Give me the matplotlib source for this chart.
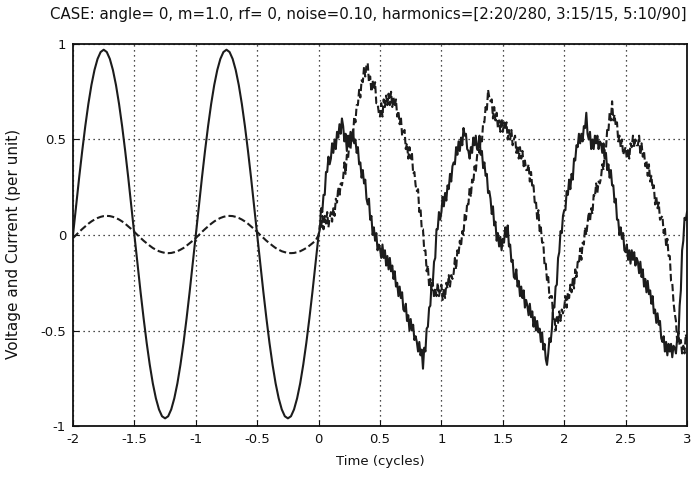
import numpy as np
import matplotlib
matplotlib.use("Agg")
import matplotlib.pyplot as plt

# ---------------- data ----------------
title_text = "CASE: angle= 0, m=1.0, rf= 0, noise=0.10, harmonics=[2:20/280, 3:15/15, 5:10/90]"
x_label = "Time (cycles)"
y_label = "Voltage and Current (per unit)"
x_ticks = [-2, -1.5, -1, -0.5, 0, 0.5, 1, 1.5, 2, 2.5, 3]
y_ticks = [-1, -0.5, 0, 0.5, 1]

# pre-fault part, t = -2 ... 0 step 0.025 cycles
t_pre_start, t_pre_step = -2.0, 0.025
volt_pre = [
    0.000, 0.152, 0.300, 0.440, 0.570, 0.686, 0.785, 0.864, 0.922, 0.958,
    0.970, 0.958, 0.922, 0.864, 0.785, 0.686, 0.570, 0.440, 0.300, 0.152,
    0.000, -0.150, -0.297, -0.436, -0.565, -0.679, -0.777, -0.855, -0.913, -0.949,
    -0.960, -0.949, -0.913, -0.855, -0.777, -0.679, -0.565, -0.436, -0.297, -0.150,
    0.000, 0.152, 0.300, 0.440, 0.570, 0.686, 0.785, 0.864, 0.922, 0.958,
    0.970, 0.958, 0.922, 0.864, 0.785, 0.686, 0.570, 0.440, 0.300, 0.152,
    0.000, -0.150, -0.297, -0.436, -0.565, -0.679, -0.777, -0.855, -0.913, -0.949,
    -0.960, -0.949, -0.913, -0.855, -0.777, -0.679, -0.565, -0.436, -0.297, -0.150,
    0.000,
]
curr_pre = [
    -0.016, 0.000, 0.016, 0.031, 0.045, 0.059, 0.071, 0.081, 0.089, 0.095,
    0.099, 0.100, 0.099, 0.095, 0.089, 0.081, 0.071, 0.059, 0.045, 0.031,
    0.016, 0.000, -0.015, -0.030, -0.043, -0.056, -0.068, -0.077, -0.085, -0.090,
    -0.094, -0.095, -0.094, -0.090, -0.085, -0.077, -0.068, -0.056, -0.043, -0.030,
    -0.016, 0.000, 0.016, 0.031, 0.045, 0.059, 0.071, 0.081, 0.089, 0.095,
    0.099, 0.100, 0.099, 0.095, 0.089, 0.081, 0.071, 0.059, 0.045, 0.031,
    0.016, 0.000, -0.015, -0.030, -0.043, -0.056, -0.068, -0.077, -0.085, -0.090,
    -0.094, -0.095, -0.094, -0.090, -0.085, -0.077, -0.068, -0.056, -0.043, -0.030,
    -0.016,
]

# post-fault noisy part, t = 0 ... 3 step 0.01 cycles
t_post_start, t_post_step = 0.0, 0.01
volt_post = [
    0.00, 0.03, 0.14, 0.12, 0.21, 0.21, 0.33, 0.33, 0.41, 0.37,
    0.40, 0.48, 0.43, 0.50, 0.45, 0.54, 0.51, 0.58, 0.53, 0.61,
    0.57, 0.49, 0.53, 0.44, 0.52, 0.48, 0.54, 0.49, 0.55, 0.48,
    0.50, 0.43, 0.46, 0.37, 0.38, 0.30, 0.34, 0.27, 0.29, 0.19,
    0.16, 0.19, 0.08, 0.10, 0.00, 0.04, -0.03, 0.01, -0.08, -0.05,
    -0.07, -0.12, -0.05, -0.12, -0.08, -0.16, -0.11, -0.18, -0.12, -0.19,
    -0.16, -0.23, -0.19, -0.27, -0.25, -0.32, -0.27, -0.33, -0.30, -0.39,
    -0.40, -0.36, -0.45, -0.42, -0.50, -0.44, -0.50, -0.47, -0.55, -0.53,
    -0.56, -0.61, -0.56, -0.63, -0.60, -0.70, -0.59, -0.61, -0.49, -0.48,
    -0.38, -0.37, -0.25, -0.25, -0.14, -0.12, 0.03, 0.03, 0.12, 0.08,
    0.12, 0.20, 0.15, 0.22, 0.18, 0.26, 0.24, 0.32, 0.28, 0.36,
    0.38, 0.37, 0.46, 0.42, 0.49, 0.44, 0.51, 0.47, 0.56, 0.52,
    0.53, 0.45, 0.44, 0.40, 0.46, 0.43, 0.51, 0.47, 0.52, 0.45,
    0.46, 0.52, 0.42, 0.44, 0.35, 0.38, 0.31, 0.32, 0.22, 0.23,
    0.19, 0.11, 0.15, 0.05, 0.07, -0.03, 0.01, -0.06, -0.01, -0.08,
    -0.02, -0.04, 0.04, -0.01, 0.05, -0.06, -0.05, -0.14, -0.13, -0.22,
    -0.23, -0.18, -0.27, -0.24, -0.32, -0.27, -0.33, -0.29, -0.38, -0.34,
    -0.37, -0.42, -0.36, -0.43, -0.40, -0.48, -0.43, -0.50, -0.45, -0.51,
    -0.49, -0.56, -0.51, -0.60, -0.57, -0.65, -0.68, -0.62, -0.54, -0.56,
    -0.49, -0.37, -0.38, -0.27, -0.26, -0.12, -0.09, 0.02, 0.01, 0.10,
    0.13, 0.13, 0.23, 0.21, 0.29, 0.24, 0.32, 0.29, 0.40, 0.39,
    0.47, 0.46, 0.53, 0.48, 0.53, 0.49, 0.57, 0.56, 0.64, 0.53,
    0.50, 0.54, 0.45, 0.50, 0.45, 0.52, 0.48, 0.52, 0.45, 0.49,
    0.48, 0.43, 0.48, 0.40, 0.43, 0.34, 0.37, 0.30, 0.34, 0.26,
    0.26, 0.17, 0.19, 0.08, 0.08, 0.00, 0.04, -0.02, 0.01, -0.08,
    -0.09, -0.05, -0.13, -0.08, -0.15, -0.08, -0.13, -0.09, -0.16, -0.12,
    -0.14, -0.20, -0.14, -0.22, -0.18, -0.27, -0.23, -0.30, -0.24, -0.31,
    -0.29, -0.36, -0.32, -0.41, -0.39, -0.46, -0.41, -0.47, -0.45, -0.54,
    -0.56, -0.53, -0.61, -0.56, -0.63, -0.57, -0.61, -0.57, -0.64, -0.58,
    -0.59, -0.62, -0.54, -0.54, -0.37, -0.29, -0.08, -0.03, 0.09, 0.08,
    0.12,
]
curr_post = [
    0.00, 0.05, 0.03, 0.10, 0.03, 0.10, 0.06, 0.12, 0.04, 0.09,
    0.12, 0.07, 0.14, 0.10, 0.19, 0.17, 0.25, 0.20, 0.27, 0.26,
    0.30, 0.38, 0.32, 0.42, 0.40, 0.48, 0.45, 0.53, 0.51, 0.62,
    0.59, 0.68, 0.68, 0.76, 0.72, 0.81, 0.80, 0.88, 0.83, 0.89,
    0.90, 0.80, 0.83, 0.75, 0.81, 0.76, 0.80, 0.69, 0.69, 0.64,
    0.62, 0.69, 0.62, 0.71, 0.67, 0.73, 0.68, 0.74, 0.68, 0.75,
    0.67, 0.72, 0.67, 0.71, 0.62, 0.65, 0.58, 0.62, 0.52, 0.54,
    0.55, 0.45, 0.48, 0.40, 0.46, 0.40, 0.43, 0.32, 0.33, 0.26,
    0.23, 0.24, 0.12, 0.14, 0.03, 0.03, -0.08, -0.08, -0.19, -0.16,
    -0.27, -0.23, -0.29, -0.25, -0.33, -0.28, -0.32, -0.25, -0.32, -0.29,
    -0.26, -0.34, -0.28, -0.33, -0.25, -0.28, -0.21, -0.27, -0.21, -0.23,
    -0.20, -0.12, -0.18, -0.08, -0.10, -0.03, -0.06, 0.02, 0.00, 0.11,
    0.08, 0.17, 0.16, 0.25, 0.20, 0.29, 0.27, 0.36, 0.33, 0.41,
    0.47, 0.43, 0.51, 0.49, 0.59, 0.59, 0.67, 0.65, 0.76, 0.72,
    0.70, 0.71, 0.61, 0.67, 0.60, 0.64, 0.56, 0.60, 0.54, 0.61,
    0.54, 0.59, 0.55, 0.59, 0.50, 0.55, 0.50, 0.55, 0.47, 0.50,
    0.52, 0.43, 0.47, 0.40, 0.46, 0.40, 0.44, 0.36, 0.39, 0.34,
    0.34, 0.37, 0.28, 0.33, 0.25, 0.26, 0.17, 0.18, 0.08, 0.13,
    0.02, 0.04, -0.04, -0.04, -0.16, -0.15, -0.24, -0.22, -0.33, -0.32,
    -0.32, -0.44, -0.43, -0.50, -0.43, -0.46, -0.40, -0.45, -0.39, -0.41,
    -0.38, -0.32, -0.38, -0.30, -0.33, -0.26, -0.30, -0.23, -0.28, -0.18,
    -0.22, -0.14, -0.15, -0.07, -0.13, -0.04, -0.05, 0.04, 0.00, 0.06,
    0.12, 0.07, 0.14, 0.11, 0.21, 0.20, 0.27, 0.22, 0.28, 0.27,
    0.30, 0.37, 0.34, 0.45, 0.45, 0.55, 0.54, 0.64, 0.60, 0.70,
    0.60, 0.63, 0.57, 0.59, 0.49, 0.52, 0.46, 0.50, 0.42, 0.44,
    0.46, 0.40, 0.45, 0.40, 0.48, 0.46, 0.52, 0.46, 0.50, 0.47,
    0.47, 0.52, 0.42, 0.48, 0.41, 0.44, 0.36, 0.39, 0.31, 0.37,
    0.28, 0.31, 0.24, 0.26, 0.16, 0.20, 0.14, 0.17, 0.08, 0.09,
    0.10, 0.01, 0.04, -0.06, -0.02, -0.11, -0.11, -0.24, -0.25, -0.35,
    -0.41, -0.45, -0.56, -0.51, -0.58, -0.55, -0.62, -0.58, -0.62, -0.52,
    -0.55,
]

# ---------------- build series ----------------
t_pre = t_pre_start + t_pre_step * np.arange(len(volt_pre))
t_post = t_post_start + t_post_step * np.arange(len(volt_post))
t_all = np.concatenate([t_pre[:-1], t_post])
v_all = np.concatenate([volt_pre[:-1], volt_post])
i_all = np.concatenate([curr_pre[:-1], curr_post])

plt.rcParams['font.family'] = ['DejaVu Sans']

fig = plt.figure(figsize=(6.96, 4.80), dpi=100)
ax = fig.add_axes([73 / 696, 1 - 426 / 480, (687 - 73) / 696, (426 - 44) / 480])

line_col = '#1c1c1c'
ax.plot(t_all, v_all, color=line_col, linewidth=1.5)
ax.plot(t_all, i_all, color=line_col, linewidth=1.5, linestyle=(0, (3.5, 1.5)))

ax.set_xlim(-2, 3)
ax.set_ylim(-1, 1)
ax.set_xticks(x_ticks)
ax.set_xticklabels([f"{v:g}" for v in x_ticks])
ax.set_yticks(y_ticks)
ax.set_yticklabels([f"{v:g}" for v in y_ticks])
ax.tick_params(direction='in', length=4, width=0.8, labelsize=9.5, pad=5, colors='#111')
ax.grid(True, linestyle=(0, (1, 3)), color='#111', linewidth=0.9)
for s in ax.spines.values():
    s.set_linewidth(1.3)
    s.set_color('#111')

fig.text(368 / 696, 1 - 14 / 480, title_text, ha='center', va='center', fontsize=10.8, color='#111')
fig.text(380 / 696, 1 - 462 / 480, x_label, ha='center', va='center', fontsize=9.5, color='#111')
fig.text(14 / 696, 1 - 244 / 480, y_label, ha='center', va='center', rotation=90, fontsize=11, color='#111')

fig.savefig("out.png", dpi=100)
